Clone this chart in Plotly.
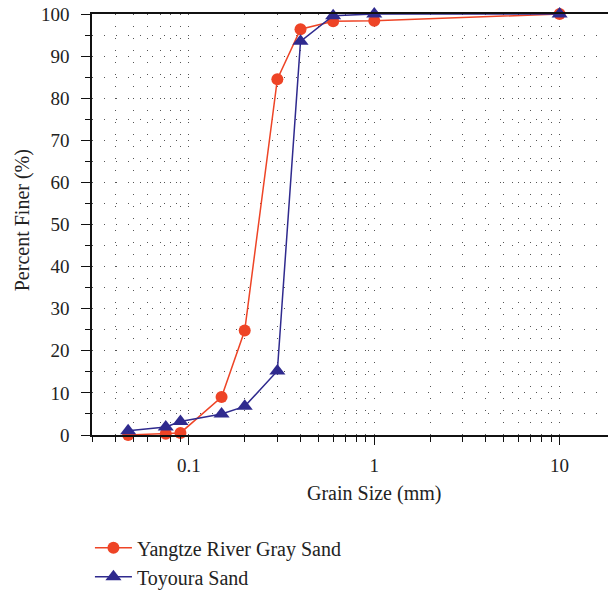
import math
import plotly.graph_objects as go

# Data
grain_size = [0.047, 0.075, 0.09, 0.15, 0.2, 0.3, 0.4, 0.6, 1.0, 10.0]
yangtze = [0.0, 0.3, 0.5, 9.0, 24.8, 84.5, 96.4, 98.3, 98.4, 100.0]
toyoura = [1.0, 1.9, 3.2, 5.0, 6.8, 15.2, 93.5, 99.6, 100.0, 100.0]

x_major = [0.1, 1, 10]
x_major_text = ["0.1", "1", "10"]
x_minor = [0.03, 0.04, 0.05, 0.06, 0.07, 0.08, 0.09,
           0.2, 0.3, 0.4, 0.5, 0.6, 0.7, 0.8, 0.9,
           2, 3, 4, 5, 6, 7, 8, 9]
y_major = [0, 10, 20, 30, 40, 50, 60, 70, 80, 90, 100]

RED = "#EE4426"
BLUE = "#2F2A8E"
FONT = "Liberation Serif"
GRID = "#555555"
DOTS = "1px,11px"

fig = go.Figure()
fig.add_trace(go.Scatter(
    x=grain_size, y=yangtze, mode="lines+markers", name="Yangtze River Gray Sand",
    line=dict(color=RED, width=1.5),
    marker=dict(symbol="circle", size=12, color=RED),
    cliponaxis=False,
))
fig.add_trace(go.Scatter(
    x=grain_size, y=toyoura, mode="lines+markers", name="Toyoura Sand",
    line=dict(color=BLUE, width=1.5),
    marker=dict(symbol="triangle-up", size=14, color=BLUE),
    cliponaxis=False,
))

fig.update_xaxes(
    type="log",
    range=[math.log10(0.03), 1.261],
    tickmode="array", tickvals=x_major, ticktext=x_major_text,
    ticks="outside", ticklen=8, tickwidth=1.3, tickcolor="#111",
    showline=True, linecolor="#111", linewidth=1.5, mirror=True,
    showgrid=True, gridcolor=GRID, gridwidth=1, griddash=DOTS,
    zeroline=False, automargin=False,
    ticklabelstandoff=4,
    tickfont=dict(family=FONT, size=19, color="#222"),
    minor=dict(tickmode="array", tickvals=x_minor, ticks="outside", ticklen=5,
               tickwidth=1.1, tickcolor="#111",
               showgrid=True, gridcolor=GRID, gridwidth=1, griddash=DOTS),
)
fig.update_yaxes(
    range=[0, 100],
    tickmode="array", tickvals=y_major,
    ticks="outside", ticklen=9, tickwidth=1.3, tickcolor="#111",
    showline=True, linecolor="#111", linewidth=1.5, mirror=False,
    showgrid=True, gridcolor=GRID, gridwidth=1, griddash=DOTS,
    zeroline=False, automargin=False,
    ticklabelstandoff=8,
    tickfont=dict(family=FONT, size=19, color="#222"),
    minor=dict(dtick=5, ticks="outside", ticklen=5, tickwidth=1.1, tickcolor="#111",
               showgrid=True, gridcolor=GRID, gridwidth=1, griddash=DOTS),
)

fig.add_annotation(text="Grain Size (mm)", xref="paper", yref="paper",
                   x=0.5465, y=-0.138, xanchor="center", yanchor="middle",
                   showarrow=False, font=dict(family=FONT, size=20, color="#222"))
fig.add_annotation(text="Percent Finer (%)", xref="paper", yref="paper",
                   x=-0.1357, y=0.51, xanchor="center", yanchor="middle",
                   textangle=-90,
                   showarrow=False, font=dict(family=FONT, size=20, color="#222"))

fig.update_layout(
    width=608, height=591,
    margin=dict(l=92, r=0, t=14, b=156),
    paper_bgcolor="white", plot_bgcolor="white",
    showlegend=True,
    legend=dict(x=-0.004, y=0.106, xanchor="left", yanchor="top", yref="container",
                font=dict(family=FONT, size=20, color="#222"),
                tracegroupgap=0,
                bgcolor="rgba(0,0,0,0)", itemwidth=37),
    font=dict(family=FONT),
)

fig.write_html("out.html")
